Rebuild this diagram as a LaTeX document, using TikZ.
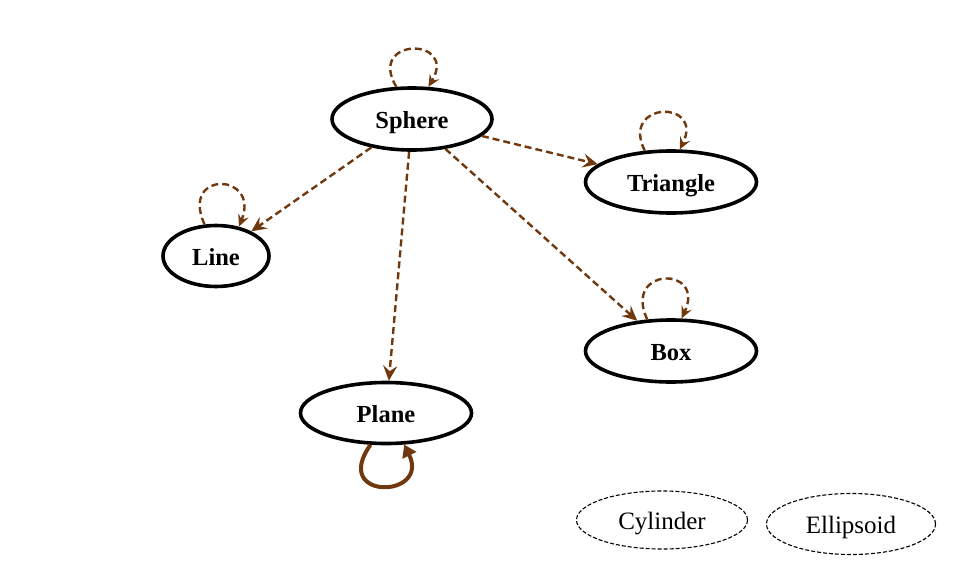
\documentclass[tikz,border=0pt]{standalone}
\usepackage{fontspec}
\setmainfont{Liberation Serif}
\usetikzlibrary{shapes.geometric,arrows.meta}
\definecolor{edgebrown}{RGB}{112,56,14}
\begin{document}
\begin{tikzpicture}[x=1pt,y=-1pt,
  mainnode/.style={ellipse,draw=black,line width=3.6pt,fill=white,inner sep=0pt,
    text height=20pt,text depth=2pt,
    font=\fontsize{24.5}{28}\selectfont\bfseries},
  isonode/.style={ellipse,draw=black,dash pattern=on 4pt off 2pt,line width=1.1pt,inner sep=0pt,
    text height=20pt,text depth=2pt,
    font=\fontsize{25}{28}\selectfont},
  dedge/.style={draw=edgebrown,line width=2.4pt,dash pattern=on 7pt off 4pt,
    -{Stealth[length=15pt,width=14pt,inset=5.5pt]}},
  sloop/.style={draw=edgebrown,line width=2.4pt,dash pattern=on 7pt off 4pt,
    -{Stealth[length=12pt,width=11pt,inset=4.5pt]}},
  tloop/.style={draw=edgebrown,line width=4pt,
    -{Triangle[length=12pt,width=15pt]}}]
\useasboundingbox (0,0) rectangle (979,586);
\node[mainnode,minimum width=160pt,minimum height=62pt] (sphere) at (412,119) {Sphere};
\node[mainnode,minimum width=171pt,minimum height=62pt] (triangle) at (671,182) {Triangle};
\node[mainnode,minimum width=106pt,minimum height=61pt] (line) at (216,256) {Line};
\node[mainnode,minimum width=171pt,minimum height=62pt] (box) at (671,351) {Box};
\node[mainnode,minimum width=171pt,minimum height=61pt] (plane) at (386,413) {Plane};
\node[isonode,minimum width=171pt,minimum height=58pt] (cylinder) at (662,520) {Cylinder};
\node[isonode,minimum width=169pt,minimum height=61pt] (ellipsoid) at (851,524) {Ellipsoid};
% edges
\draw[dedge] (sphere) -- (line);
\draw[dedge] (sphere) -- (plane);
\draw[dedge] (sphere) -- (box);
\draw[dedge] (sphere) -- (triangle);
% self loops
\draw[sloop] (sphere.116) .. controls +(-30,-50) and +(30,-50) .. (sphere.63);
\draw[sloop] (triangle.130) .. controls +(-25,-50) and +(25,-50) .. (triangle.75);
\draw[sloop] (line.110) .. controls +(-25,-55) and +(22,-54) .. (line.52);
\draw[sloop] (box.127) .. controls +(-25,-53) and +(25,-53) .. (box.72);
\draw[tloop] (plane.-116) .. controls +(-40,56) and +(26,54) .. (plane.-60);
\end{tikzpicture}
\end{document}
